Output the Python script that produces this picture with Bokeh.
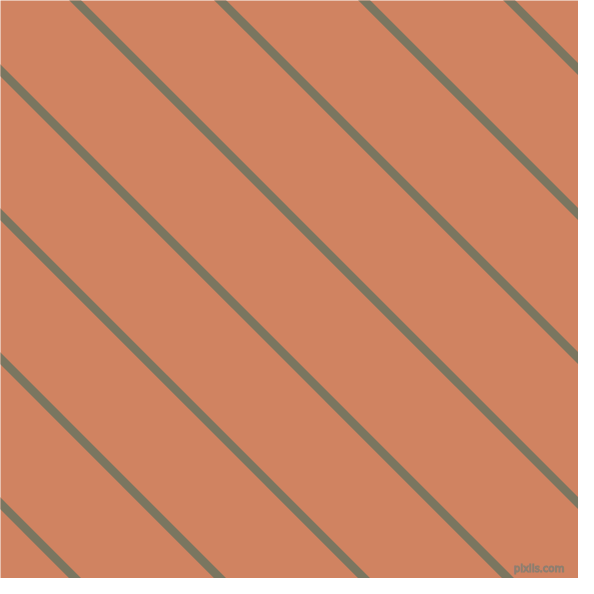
from bokeh.plotting import figure
from bokeh.embed import file_html
from bokeh.resources import INLINE
from bokeh.models import Range1d
from bokeh.core.properties import value

# Diagonal stripe pattern: lines y = x + c (image pixel coordinates, y downward)
intercepts = [-523, -374, -226, -77, 72, 220, 368, 517]
bg_color = "#D08361"
line_color = "#7A7660"
watermark = "pixlis.com"

W = 594
p = figure(width=578, height=578, output_backend="svg", toolbar_location=None,
           x_range=Range1d(0, W), y_range=Range1d(W, 0), min_border=0)
p.axis.visible = False
p.grid.visible = False
p.outline_line_color = None
p.background_fill_color = bg_color
p.border_fill_color = bg_color

x0 = [-100 for c in intercepts]
x1 = [W + 100 for c in intercepts]
y0 = [x + c for x, c in zip(x0, intercepts)]
y1 = [x + c for x, c in zip(x1, intercepts)]
p.segment(x0=x0, y0=y0, x1=x1, y1=y1, line_color=line_color, line_width=8.5)

p.text(x=[579], y=[584], text=[watermark], text_align="right", text_baseline="middle",
       text_font=value("DejaVu Sans"), text_font_size="10px", text_color="#D49A80",
       text_outline_color="#8E7E70", text_alpha=1.0)

open("out.html", "w").write(file_html(p, INLINE))
